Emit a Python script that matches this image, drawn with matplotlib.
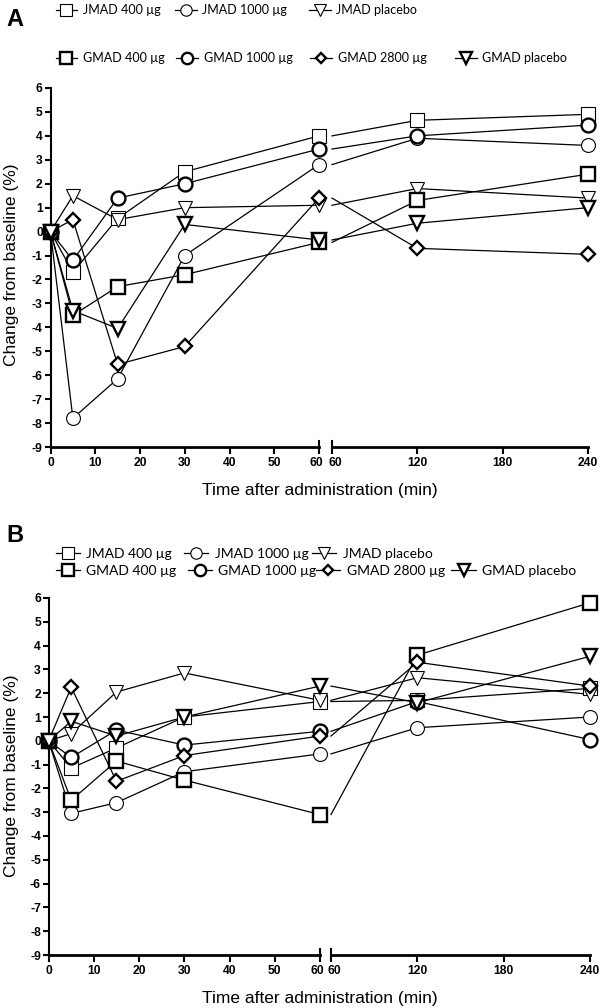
import numpy as np
import matplotlib
matplotlib.use("Agg")
import matplotlib.pyplot as plt
import matplotlib.transforms as mtransforms
from matplotlib.lines import Line2D

plt.rcParams['axes.unicode_minus'] = False

# time points (min)
times = [0, 5, 15, 30, 60, 120, 240]
names = ["JMAD 400 µg", "JMAD 1000 µg", "JMAD placebo",
         "GMAD 400 µg", "GMAD 1000 µg", "GMAD 2800 µg", "GMAD placebo"]

# panel A, change from baseline (%)
a_jmad_400 = [0, -1.7, 0.55, 2.5, 4.0, 4.65, 4.9]
a_jmad_1000 = [0, -7.8, -6.15, -1.0, 2.8, 3.9, 3.6]
a_jmad_plac = [0, 1.5, 0.5, 1.0, 1.1, 1.8, 1.4]
a_gmad_400 = [0, -3.5, -2.3, -1.8, -0.45, 1.3, 2.4]
a_gmad_1000 = [0, -1.2, 1.4, 2.0, 3.45, 4.0, 4.45]
a_gmad_2800 = [0, 0.5, -5.55, -4.8, 1.4, -0.7, -0.95]
a_gmad_plac = [0, -3.3, -4.05, 0.3, -0.35, 0.35, 1.0]

# panel B, change from baseline (%)
b_jmad_400 = [0, -1.15, -0.3, 1.0, 1.65, 1.7, 2.2]
b_jmad_1000 = [0, -3.05, -2.6, -1.3, -0.55, 0.55, 1.0]
b_jmad_plac = [0, 0.3, 2.05, 2.85, 1.7, 2.65, 1.95]
b_gmad_400 = [0, -2.5, -0.85, -1.65, -3.1, 3.6, 5.8]
b_gmad_1000 = [0, -0.7, 0.45, -0.18, 0.4, 1.65, 0.05]
b_gmad_2800 = [0, 2.25, -1.7, -0.62, 0.2, 3.3, 2.3]
b_gmad_plac = [0, 0.82, 0.2, 1.0, 2.3, 1.6, 3.55]

panel_a = [a_jmad_400, a_jmad_1000, a_jmad_plac, a_gmad_400, a_gmad_1000, a_gmad_2800, a_gmad_plac]
panel_b = [b_jmad_400, b_jmad_1000, b_jmad_plac, b_gmad_400, b_gmad_1000, b_gmad_2800, b_gmad_plac]

# marker, size, edge width
styles = [("s", 10, 0.8), ("o", 10, 0.8), ("v", 10, 0.8),
          ("s", 10, 1.7), ("o", 10, 1.7), ("D", 6.8, 1.7), ("v", 10, 1.7)]

tick_font = dict(family=["Liberation Sans", "DejaVu Sans"], weight="bold", size=8.7)
label_font = dict(family=["Liberation Sans", "DejaVu Sans"], size=12.5)
leg_font = dict(family=["Lato", "DejaVu Sans"], size=9)

W, H = 600, 1008
fig = plt.figure(figsize=(W / 100, H / 100), dpi=100)


def px_axes(x0, x1, ytop, ybot):
    return fig.add_axes([x0 / W, 1 - ybot / H, (x1 - x0) / W, (ybot - ytop) / H])


def draw_panel(data, ytop, ybot, xl0, xl1, xr0, xr1):
    axl = px_axes(xl0, xl1, ytop, ybot)
    axr = px_axes(xr0, xr1, ytop, ybot)
    t = np.array(times)
    for vals in data:
        v = np.array(vals)
        left = t <= 60
        right = t >= 60
        axl.plot(t[left], v[left], color="k", lw=0.9, zorder=2, clip_on=False)
        axr.plot(t[right], v[right], color="k", lw=0.9, zorder=2, clip_on=False)
    for vals, (m, ms, mew) in zip(data, styles):
        v = np.array(vals)
        left = t <= 60
        right = t > 60
        kw = dict(ls="none", marker=m, ms=ms, mew=mew, mfc="white", mec="k", zorder=3, clip_on=False)
        axl.plot(t[left], v[left], **kw)
        axr.plot(t[right], v[right], **kw)
    for ax in (axl, axr):
        ax.set_ylim(-9, 6)
    axl.set_xlim(0, 60)
    axr.set_xlim(60, 240)
    axl.set_xticks([0, 10, 20, 30, 40, 50, 60])
    axr.set_xticks([60, 120, 180, 240])
    axl.set_yticks(range(-9, 7))
    axr.set_yticks([])
    for s in ("top", "right"):
        axl.spines[s].set_visible(False)
    for s in ("top", "right", "left"):
        axr.spines[s].set_visible(False)
    for ax in (axl, axr):
        ax.spines["bottom"].set_linewidth(2)
        ax.tick_params(axis="x", direction="out", length=5, width=1.5, pad=2)
        ax.patch.set_alpha(0)
        for lab in ax.get_xticklabels():
            lab.set(**tick_font)
        # break marks at 60
        ax.plot([60, 60], [0, 0.018], color="k", lw=1.5, transform=ax.get_xaxis_transform(), clip_on=False)
    # push the two "60" labels apart a little so they just touch
    lab_l = axl.get_xticklabels()[-1]
    lab_l.set_transform(lab_l.get_transform() + mtransforms.ScaledTranslation(-3 / 100, 0, fig.dpi_scale_trans))
    lab_r = axr.get_xticklabels()[0]
    lab_r.set_transform(lab_r.get_transform() + mtransforms.ScaledTranslation(3 / 100, 0, fig.dpi_scale_trans))
    axl.spines["left"].set_linewidth(1.5)
    axl.tick_params(axis="y", direction="out", length=4, width=1.5, pad=1.5)
    for lab in axl.get_yticklabels():
        lab.set(**tick_font)
    return axl, axr


def legend_entry(idx, xpx, ypx, fsize):
    m, ms, mew = styles[idx]
    h = Line2D([], [], color="k", lw=0.9, marker=m, ms=ms * 0.82, mew=mew, mfc="white", mec="k")
    font = dict(leg_font)
    font["size"] = fsize
    fig.legend(handles=[h], labels=[names[idx]], loc="center left",
               bbox_to_anchor=(xpx / W, 1 - ypx / H), frameon=False,
               borderpad=0, borderaxespad=0, handlelength=1.75, handletextpad=0.45,
               prop=font)


# panel A
draw_panel(panel_a, 88, 447, 50.5, 319, 332, 588)
fig.text(15 / W, 1 - 19 / H, "A", ha="center", va="center", weight="bold", size=17,
         family=["Liberation Sans", "DejaVu Sans"])
for idx, (x, y) in zip(range(7), [(55.5, 10.5), (175, 10.5), (309, 10.5),
                                    (55.5, 58.5), (176, 58.5), (310, 58.5), (455, 58.5)]):
    legend_entry(idx, x, y, 9)
fig.text(12 / W, 1 - 265 / H, "Change from baseline (%)", rotation=90, ha="center", va="center", **label_font)
fig.text(320 / W, 1 - 490 / H, "Time after administration (min)", ha="center", va="center", **label_font)

# panel B
draw_panel(panel_b, 598, 955, 48.6, 320, 331, 590)
fig.text(15 / W, 1 - 536 / H, "B", ha="center", va="center", weight="bold", size=17,
         family=["Liberation Sans", "DejaVu Sans"])
for idx, (x, y) in zip(range(7), [(55.5, 554), (184, 554), (312, 554),
                                    (55.5, 571), (187.5, 571), (316, 571), (451.5, 571)]):
    legend_entry(idx, x, y, 10)
fig.text(12 / W, 1 - 776 / H, "Change from baseline (%)", rotation=90, ha="center", va="center", **label_font)
fig.text(320 / W, 1 - 998 / H, "Time after administration (min)", ha="center", va="center", **label_font)

fig.savefig("out.png", dpi=100)
